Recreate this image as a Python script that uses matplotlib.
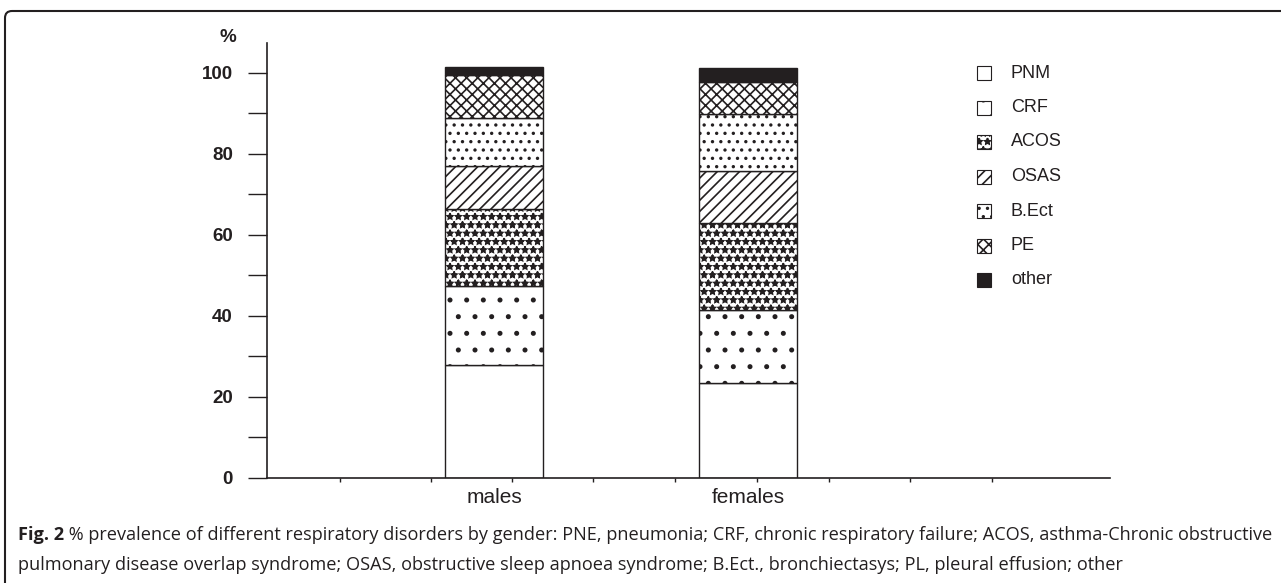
import matplotlib
matplotlib.use('Agg')
import matplotlib.pyplot as plt
from matplotlib.patches import Rectangle, FancyBboxPatch
from matplotlib.transforms import IdentityTransform
import numpy as np

# ---------------- data ----------------
groups = ['males', 'females']
disorders = ['PNM', 'CRF', 'ACOS', 'OSAS', 'B.Ect', 'PE', 'other']
males = [28.0, 19.5, 19.0, 10.5, 12.0, 10.5, 2.0]
females = [23.5, 18.0, 21.5, 12.8, 14.0, 8.0, 3.5]
y_ticks = [0, 20, 40, 60, 80, 100]
y_minor = [10, 30, 50, 70, 90]
caption_bold = 'Fig. 2'
caption_line1 = (' % prevalence of different respiratory disorders by gender: PNE, pneumonia; '
                 'CRF, chronic respiratory failure; ACOS, asthma-Chronic obstructive')
caption_line2 = ('pulmonary disease overlap syndrome; OSAS, obstructive sleep apnoea syndrome; '
                 'B.Ect., bronchiectasys; PL, pleural effusion; other')

# ---------------- style ----------------
INK = '#231f20'
plt.rcParams['font.family'] = ['Liberation Sans', 'DejaVu Sans']
plt.rcParams['hatch.linewidth'] = 1.2
plt.rcParams['hatch.color'] = INK

W, H = 1281, 583
fig = plt.figure(figsize=(W / 100, H / 100), dpi=100)


def fx(px):
    return px / W


def fy(py):
    return 1 - py / H


ax = fig.add_axes([fx(267), fy(478), fx(1110) - fx(267), fy(43) - fy(478)])

hatches = ['', '.', '**', '///', '..', 'xxx', '']
faces = ['white'] * 6 + [INK]

x = np.arange(len(groups))
data = np.array([males, females])
bottom = np.zeros(len(groups))
for i, name in enumerate(disorders):
    vals = data[:, i]
    ax.bar(x, vals, width=0.386, bottom=bottom, color=faces[i], edgecolor=INK,
           hatch=hatches[i], linewidth=1.0, label=name)
    bottom += vals

ax.set_xlim(-0.894, 2.425)
ax.set_ylim(0, 107.4)

ax.set_yticks(y_ticks)
ax.set_yticks(y_minor, minor=True)
ax.tick_params(axis='y', which='both', direction='out', length=13.5, width=1.0,
               color=INK, labelcolor=INK, labelsize=13.5, pad=11)
for lab in ax.get_yticklabels():
    lab.set_fontweight('bold')

ax.set_xticks(x, groups)
minor_px = [340, 431, 512, 593, 675, 757, 829, 910, 992]
ax.set_xticks([(p - 267 - 227) / 254 for p in minor_px], minor=True)
ax.tick_params(axis='x', which='major', length=0, labelsize=15, pad=7, labelcolor=INK)
ax.tick_params(axis='x', which='minor', length=3, width=1.0, color=INK)

for s in ['top', 'right']:
    ax.spines[s].set_visible(False)
for s in ['left', 'bottom']:
    ax.spines[s].set_color(INK)
    ax.spines[s].set_linewidth(1.2)

fig.text(fx(228), fy(38), '%', ha='center', va='center', fontsize=13.5,
         weight='bold', color=INK)

# ---------------- legend (manual) ----------------
for i, name in enumerate(disorders):
    yc = 73 + 34.5 * i
    rect = Rectangle((fx(977), fy(yc + 7)), 14 / W, 14 / H, transform=fig.transFigure,
                     facecolor=faces[i], edgecolor=INK, hatch=hatches[i], linewidth=0.8)
    fig.add_artist(rect)
    fig.text(fx(1011), fy(yc), name, ha='left', va='center', fontsize=13, color=INK)

# ---------------- caption ----------------
renderer = fig.canvas.get_renderer()
cap_font = ['Open Sans', 'DejaVu Sans']
cs = 12.0
t1 = fig.text(fx(18), fy(535), caption_bold, fontsize=cs, weight='bold', va='center',
              family=cap_font, color=INK)
bb1 = t1.get_window_extent(renderer)
t2 = fig.text(bb1.x1 / W, fy(535), caption_line1, fontsize=cs, va='center',
              family=cap_font, color=INK)
bb2 = t2.get_window_extent(renderer)
scale = (1263 - 18) / (bb2.x1 - bb1.x0)
cs *= scale
t1.set_fontsize(cs)
bb1 = t1.get_window_extent(renderer)
t2.set_fontsize(cs)
t2.set_x(bb1.x1 / W)
fig.text(fx(18), fy(565), caption_line2, fontsize=cs, va='center', family=cap_font, color=INK)

# ---------------- frame ----------------
frame = FancyBboxPatch((5, -60), 1400, H - 11 + 60,
                       boxstyle='round,pad=0,rounding_size=7',
                       transform=IdentityTransform(), facecolor='none',
                       edgecolor=INK, linewidth=1.5)
fig.add_artist(frame)

fig.savefig('out.png', dpi=100)
